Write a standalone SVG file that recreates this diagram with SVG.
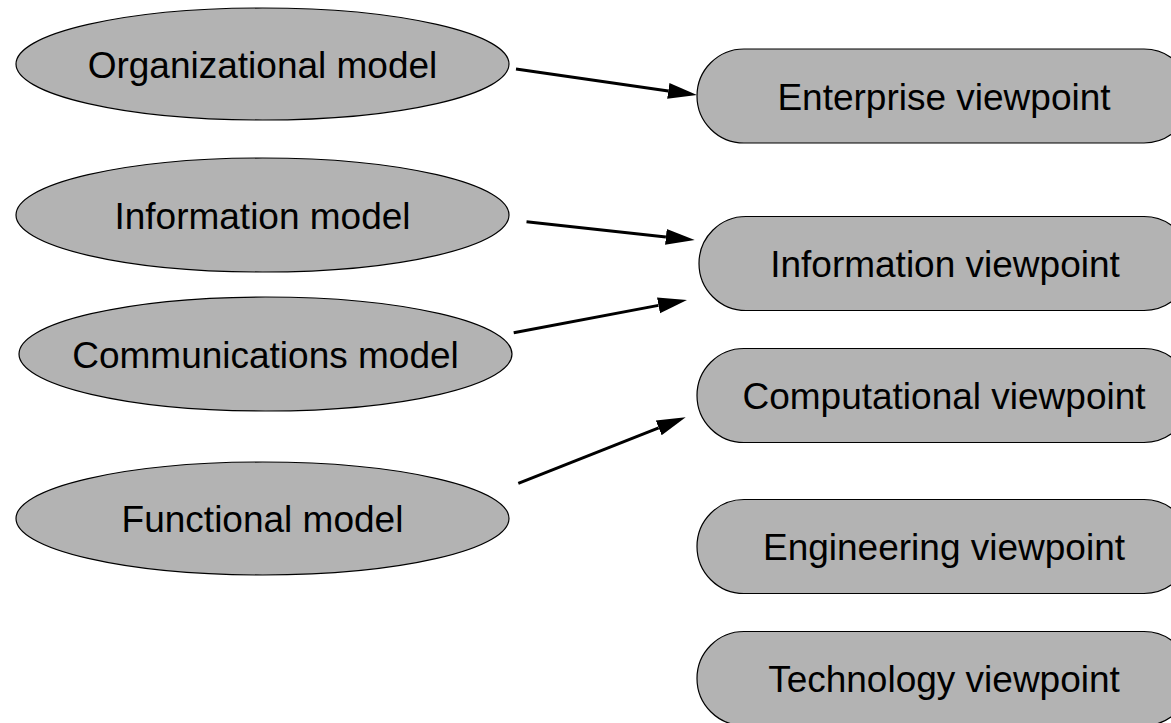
<svg xmlns="http://www.w3.org/2000/svg" width="1171" height="723" viewBox="0 0 1171 723">
  <style>
    .shape { fill: #b3b3b3; stroke: #000; stroke-width: 1.2; }
    .label { font-family: "Liberation Sans", Arial, sans-serif; font-size: 37px; fill: #000; text-anchor: middle; }
    .edge { stroke: #000; stroke-width: 3; fill: none; marker-end: url(#arrow); }
  </style>
  <defs>
    <marker id="arrow" markerUnits="userSpaceOnUse" markerWidth="30" markerHeight="18" viewBox="0 0 30 18" refX="0" refY="9" orient="auto">
      <path d="M0,1 L29,9 L0,17 z" fill="#000"/>
    </marker>
  </defs>
  <rect width="1171" height="723" fill="#fff"/>

  <g id="organizational-model">
    <ellipse class="shape" cx="262.5" cy="64" rx="246.5" ry="56"/>
    <text class="label" x="262.5" y="78">Organizational model</text>
  </g>
  <g id="information-model">
    <ellipse class="shape" cx="262.5" cy="215" rx="246.5" ry="57"/>
    <text class="label" x="262.5" y="229">Information model</text>
  </g>
  <g id="communications-model">
    <ellipse class="shape" cx="265.5" cy="354" rx="246.5" ry="57"/>
    <text class="label" x="265.5" y="368">Communications model</text>
  </g>
  <g id="functional-model">
    <ellipse class="shape" cx="262.5" cy="518.5" rx="246.5" ry="56.5"/>
    <text class="label" x="262.5" y="532">Functional model</text>
  </g>

  <g id="enterprise-viewpoint">
    <rect class="shape" x="697" y="49" width="494" height="94" rx="47" ry="47"/>
    <text class="label" x="944" y="110">Enterprise viewpoint</text>
  </g>
  <g id="information-viewpoint">
    <rect class="shape" x="699" y="216.5" width="492" height="94" rx="47" ry="47"/>
    <text class="label" x="945" y="277">Information viewpoint</text>
  </g>
  <g id="computational-viewpoint">
    <rect class="shape" x="697" y="348.5" width="494" height="94" rx="47" ry="47"/>
    <text class="label" x="944" y="409">Computational viewpoint</text>
  </g>
  <g id="engineering-viewpoint">
    <rect class="shape" x="697" y="499.5" width="494" height="94" rx="47" ry="47"/>
    <text class="label" x="944" y="560">Engineering viewpoint</text>
  </g>
  <g id="technology-viewpoint">
    <rect class="shape" x="697" y="631.5" width="494" height="94" rx="47" ry="47"/>
    <text class="label" x="944" y="692">Technology viewpoint</text>
  </g>

  <g id="connectors">
    <line class="edge" x1="516" y1="69" x2="668.3" y2="90.9"/>
    <line class="edge" x1="526.5" y1="221.7" x2="665.9" y2="236.9"/>
    <line class="edge" x1="513.7" y1="332.7" x2="658.5" y2="305.4"/>
    <line class="edge" x1="518.3" y1="483.3" x2="658.7" y2="427.9"/>
  </g>
</svg>
